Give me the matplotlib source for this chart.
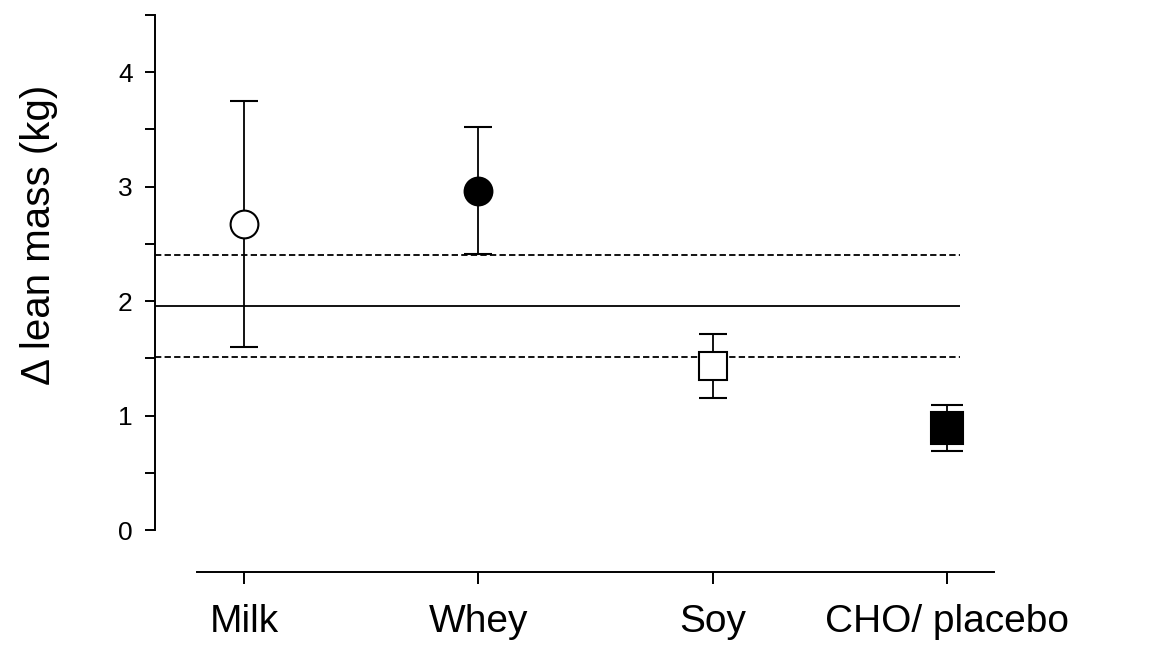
import matplotlib.pyplot as plt

plt.rcParams["font.family"] = ["Liberation Sans", "DejaVu Sans"]

groups = ["Milk", "Whey", "Soy", "CHO/ placebo"]
means = [2.67, 2.96, 1.43, 0.89]
upper = [3.75, 3.52, 1.71, 1.09]
lower = [1.60, 2.41, 1.15, 0.69]
markers = ["o", "o", "s", "s"]
faces = ["white", "black", "white", "black"]
msizes = [20, 20, 19.5, 23]
caps = [10, 10, 10, 11.5]

ref_mean = 1.96
ref_ci = [2.40, 1.51]

fig = plt.figure(figsize=(11.52, 6.45), dpi=100)
ax = fig.add_axes([155 / 1152, 1 - 530 / 645, (995 - 155) / 1152, (530 - 15) / 645])

x = list(range(len(groups)))
xmin, xmax = -0.38, 3.205
ax.set_xlim(xmin, xmax)
ax.set_ylim(0, 4.5)

# reference band: mean and limits
line_end = 3.055
ax.hlines(ref_mean, xmin, line_end, colors="black", lw=1.3, zorder=1)
for v in ref_ci:
    ax.hlines(v, xmin, line_end, colors="black", lw=1.3, linestyles=(0, (3.5, 1.8)), zorder=1)

for i in x:
    yerr = [[means[i] - lower[i]], [upper[i] - means[i]]]
    ax.errorbar(x[i], means[i], yerr=yerr, fmt=markers[i], mfc=faces[i], mec="black",
                mew=1.5, ms=msizes[i], ecolor="black", elinewidth=1.3, capsize=caps[i],
                capthick=1.3, zorder=3)

ax.spines["top"].set_visible(False)
ax.spines["right"].set_visible(False)
ax.spines["left"].set_linewidth(1.4)
ax.spines["left"].set_bounds(0, 4.5)
ax.spines["bottom"].set_position(("outward", 30))
ax.spines["bottom"].set_linewidth(1.4)
ax.spines["bottom"].set_bounds(-0.2, 3.2)

ax.set_yticks([0, 1, 2, 3, 4])
ax.set_yticks([0.5, 1.5, 2.5, 3.5, 4.5], minor=True)
ax.tick_params(axis="y", which="major", length=7, width=1.4, labelsize=19, pad=9)
ax.tick_params(axis="y", which="minor", length=7, width=1.4)

ax.set_xticks(x)
ax.set_xticklabels(groups)
ax.tick_params(axis="x", which="major", length=8.5, width=1.4, labelsize=28, pad=15)

ax.set_ylabel("\u0394 lean mass (kg)", fontsize=29)
ax.yaxis.set_label_coords(-0.116, 0.573)

fig.savefig("out.png", dpi=100)
